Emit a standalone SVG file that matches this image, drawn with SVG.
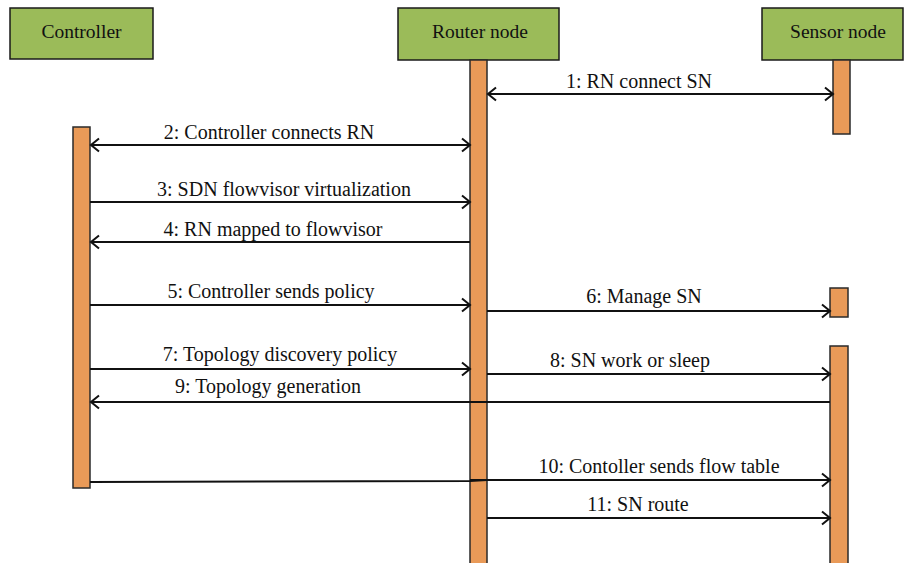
<svg xmlns="http://www.w3.org/2000/svg" width="904" height="563" viewBox="0 0 904 563">
<style>
.box{fill:#9BBB59;stroke:#1a1a1a;stroke-width:1.5}
.bar{fill:#E99A58;stroke:#2a2a2a;stroke-width:1.5}
.t{font-family:'Liberation Serif','DejaVu Serif',serif;font-size:20px;fill:#111;text-anchor:middle}
.h{font-size:19.5px}
.msg{stroke:#111;stroke-width:2;fill:none}
.arr{marker-end:url(#head)}
.both{marker-start:url(#head);marker-end:url(#head)}
</style>
<defs>
<marker id="head" markerUnits="userSpaceOnUse" viewBox="-10 -8 12 16" refX="0" refY="0" markerWidth="12" markerHeight="16" orient="auto-start-reverse">
<path d="M-8,-6.5 L0,0 L-8,6.5" fill="none" stroke="#111" stroke-width="2"/>
</marker>
</defs>
<rect width="904" height="563" fill="#fff"/>
<g id="controller">
<rect class="box" x="10" y="8" width="143" height="51"/>
<text class="t h" x="81.5" y="38">Controller</text>
<rect class="bar" x="73" y="127" width="17" height="361"/>
</g>
<g id="router">
<rect class="box" x="398" y="8" width="161" height="52"/>
<text class="t h" x="480" y="38">Router node</text>
<rect class="bar" x="470" y="60" width="17" height="505"/>
</g>
<g id="sensor">
<rect class="box" x="762" y="8" width="141" height="52"/>
<text class="t h" x="838" y="38">Sensor node</text>
<rect class="bar" x="833" y="60" width="17" height="74"/>
<rect class="bar" x="830" y="288" width="18" height="29"/>
<rect class="bar" x="830" y="346" width="18" height="219"/>
</g>
<g id="connectors">
<line class="msg both" x1="488" y1="94" x2="833" y2="94"/>
<text class="t" x="639" y="88">1: RN connect SN</text>
<line class="msg both" x1="91" y1="145" x2="470" y2="145"/>
<text class="t" x="269" y="139">2: Controller connects RN</text>
<line class="msg arr" x1="90" y1="202" x2="470" y2="202"/>
<text class="t" x="284" y="196">3: SDN flowvisor virtualization</text>
<line class="msg arr" x1="470" y1="242" x2="91" y2="242"/>
<text class="t" x="273" y="236">4: RN mapped to flowvisor</text>
<line class="msg arr" x1="90" y1="305" x2="470" y2="305"/>
<text class="t" x="271" y="298">5: Controller sends policy</text>
<line class="msg arr" x1="487" y1="311" x2="830" y2="311"/>
<text class="t" x="644" y="303">6: Manage SN</text>
<line class="msg arr" x1="90" y1="369" x2="470" y2="369"/>
<text class="t" x="280" y="361">7: Topology discovery policy</text>
<line class="msg arr" x1="487" y1="374" x2="830" y2="374"/>
<text class="t" x="630" y="367">8: SN work or sleep</text>
<line class="msg arr" x1="830" y1="402" x2="91" y2="402"/>
<text class="t" x="268" y="393">9: Topology generation</text>
<polyline class="msg" points="90,482 470,481 487,480"/>
<line class="msg arr" x1="470" y1="480" x2="830" y2="480"/>
<text class="t" x="659" y="473">10: Contoller sends flow table</text>
<line class="msg arr" x1="487" y1="518" x2="830" y2="518"/>
<text class="t" x="638" y="511">11: SN route</text>
</g>
</svg>
